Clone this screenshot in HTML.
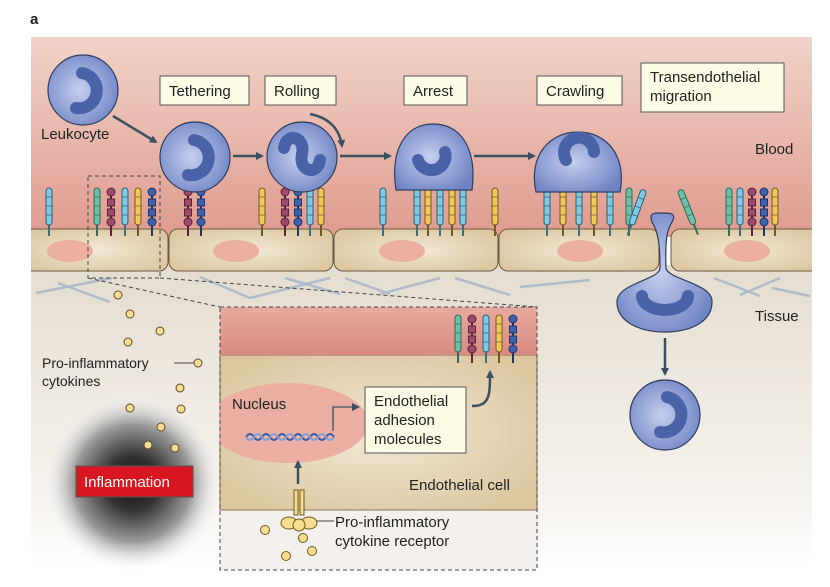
<!DOCTYPE html>
<html><head><meta charset="utf-8"><style>
body{margin:0;background:#fff}
svg{display:block}
text{font-family:"Liberation Sans",sans-serif;fill:#222}
</style></head><body>
<svg width="830" height="587" viewBox="0 0 830 587" xmlns="http://www.w3.org/2000/svg">
<defs>
<linearGradient id="blood" x1="0" y1="0" x2="0" y2="1">
<stop offset="0" stop-color="#f1d3c8"/><stop offset="1" stop-color="#df9b8f"/></linearGradient>
<linearGradient id="tissue" x1="0" y1="0" x2="0" y2="1">
<stop offset="0" stop-color="#e4ddd0"/><stop offset="0.8" stop-color="#f7f4ef"/><stop offset="1" stop-color="#fff"/></linearGradient>
<radialGradient id="endo" cx="0.5" cy="0.5" r="0.6">
<stop offset="0" stop-color="#f3e9d6"/><stop offset="1" stop-color="#dcc7a0"/></radialGradient>
<radialGradient id="cell" cx="0.45" cy="0.5" r="0.6">
<stop offset="0" stop-color="#c5cfee"/><stop offset="1" stop-color="#6f84c4"/></radialGradient>
<radialGradient id="infl" cx="0.5" cy="0.5" r="0.5">
<stop offset="0" stop-color="#111"/><stop offset="0.3" stop-color="#333"/><stop offset="0.65" stop-color="#999"/><stop offset="1" stop-color="#fff" stop-opacity="0"/></radialGradient>
<linearGradient id="insetred" x1="0" y1="0" x2="0" y2="1">
<stop offset="0" stop-color="#e7aaa0"/><stop offset="1" stop-color="#d98b80"/></linearGradient>
<clipPath id="insclip"><rect x="220" y="307" width="317" height="263"/></clipPath>
<marker id="ah" markerWidth="8" markerHeight="8" refX="6" refY="4" orient="auto" markerUnits="userSpaceOnUse">
<path d="M0,0 L8,4 L0,8 Z" fill="#3a5060"/></marker>
<g id="rc"><line x1="0" y1="36" x2="0" y2="48" stroke="#3e6e7e" stroke-width="2"/><rect x="-3" y="0" width="6" height="37" rx="3" fill="#7ecbe8" stroke="#2f5f70" stroke-width="1"/><path d="M-3,9h6M-3,18h6M-3,27h6" stroke="#2f5f70" stroke-width="0.8"/></g>
<g id="ry"><line x1="0" y1="36" x2="0" y2="48" stroke="#6e5a20" stroke-width="2"/><rect x="-3" y="0" width="6" height="37" rx="3" fill="#f2c85a" stroke="#6e5a20" stroke-width="1"/><path d="M-3,9h6M-3,18h6M-3,27h6" stroke="#6e5a20" stroke-width="0.8"/></g>
<g id="rg"><line x1="0" y1="36" x2="0" y2="48" stroke="#2f6a5a" stroke-width="2"/><rect x="-3" y="0" width="6" height="37" rx="3" fill="#6cc0a6" stroke="#2f6a5a" stroke-width="1"/><path d="M-3,9h6M-3,18h6M-3,27h6" stroke="#2f6a5a" stroke-width="0.8"/></g>
<g id="bp"><line x1="0" y1="4" x2="0" y2="48" stroke="#5a2238" stroke-width="2"/><circle cx="0" cy="4" r="4" fill="#9c4b6d" stroke="#5a2238"/><rect x="-3.5" y="11" width="7" height="7" fill="#9c4b6d" stroke="#5a2238"/><rect x="-3.5" y="21" width="7" height="7" fill="#9c4b6d" stroke="#5a2238"/><circle cx="0" cy="34" r="4" fill="#9c4b6d" stroke="#5a2238"/></g>
<g id="bb"><line x1="0" y1="4" x2="0" y2="48" stroke="#1f3568" stroke-width="2"/><circle cx="0" cy="4" r="4" fill="#3f60aa" stroke="#1f3568"/><rect x="-3.5" y="11" width="7" height="7" fill="#3f60aa" stroke="#1f3568"/><rect x="-3.5" y="21" width="7" height="7" fill="#3f60aa" stroke="#1f3568"/><circle cx="0" cy="34" r="4" fill="#3f60aa" stroke="#1f3568"/></g>
</defs>

<text x="30" y="24" font-size="15" font-weight="bold">a</text>
<rect x="31" y="37" width="781" height="200" fill="url(#blood)"/>
<rect x="31" y="265" width="781" height="300" fill="url(#tissue)"/>
<g stroke="#a8b8c8" stroke-width="2.5" fill="none" opacity="0.9">
<path d="M36,293 L112,278 M58,283 L110,302 M200,277 L250,298 M250,298 L330,278 M285,278 L340,294 M345,278 L390,294 M380,294 L440,278 M455,278 L510,295 M520,287 L590,280 M714,278 L760,296 M740,295 L780,278 M772,288 L810,296"/>
</g>
<g fill="url(#endo)" stroke="#6b5a40" stroke-width="1">
<rect x="22" y="229" width="146" height="42" rx="9"/>
<rect x="169" y="229" width="164" height="42" rx="9"/>
<rect x="334" y="229" width="164" height="42" rx="9"/>
<rect x="499" y="229" width="160" height="42" rx="9"/>
<rect x="671" y="229" width="150" height="42" rx="9"/>
</g>
<rect x="812" y="225" width="18" height="50" fill="#fff"/>
<rect x="0" y="225" width="31" height="50" fill="#fff"/>
<g fill="#eaaea2">
<ellipse cx="70" cy="251" rx="23" ry="11"/><ellipse cx="236" cy="251" rx="23" ry="11"/>
<ellipse cx="402" cy="251" rx="23" ry="11"/><ellipse cx="580" cy="251" rx="23" ry="11"/>
<ellipse cx="747" cy="251" rx="23" ry="11"/></g>

<use href="#rc" x="49" y="188"/><use href="#rg" x="97" y="188"/><use href="#bp" x="111" y="188"/><use href="#rc" x="125" y="188"/><use href="#ry" x="138" y="188"/><use href="#bb" x="152" y="188"/>
<use href="#bp" x="188" y="188"/><use href="#bb" x="201" y="188"/>
<use href="#ry" x="262" y="188"/><use href="#bp" x="285" y="188"/><use href="#bb" x="298" y="188"/><use href="#rc" x="310" y="188"/><use href="#ry" x="321" y="188"/>
<use href="#rc" x="383" y="188"/><use href="#rc" x="417" y="188"/><use href="#ry" x="428" y="188"/><use href="#rc" x="440" y="188"/><use href="#ry" x="452" y="188"/><use href="#rc" x="463" y="188"/><use href="#ry" x="495" y="188"/>
<use href="#rc" x="547" y="188"/><use href="#ry" x="563" y="188"/><use href="#rc" x="579" y="188"/><use href="#ry" x="594" y="188"/><use href="#rc" x="610" y="188"/><use href="#rg" x="629" y="188"/>
<use href="#rc" transform="translate(644,190) rotate(20)"/><use href="#rg" transform="translate(680,190) rotate(-22)"/>
<use href="#rg" x="729" y="188"/><use href="#rc" x="740" y="188"/><use href="#bp" x="752" y="188"/><use href="#bb" x="764" y="188"/><use href="#ry" x="775" y="188"/>

<g stroke="#2f3d5c" stroke-width="1.2" fill="url(#cell)">
<circle cx="83" cy="90" r="35"/>
<circle cx="195" cy="157" r="35"/>
<circle cx="302" cy="157" r="35"/>
<path d="M396,190 C390,150 405,124 433,124 C462,124 477,150 472,190 Z"/>
<path d="M536,192 C528,155 550,132 578,132 C606,132 627,155 620,192 Z"/>
<path d="M652,222 C648,212 656,213 662,213 C670,213 677,213 672,222 C667,230 665,240 666,268 C668,280 713,283 712,302 C712,322 690,332 665,332 C640,332 617,322 617,302 C617,283 660,280 660,268 C660,240 657,230 652,222 Z"/>
<circle cx="665" cy="415" r="35"/>
</g>
<g fill="none" stroke="#4a63a8" stroke-width="12" stroke-linecap="round">
<path d="M82,73 A17,17 0 1 1 76,108"/>
<path d="M194,140 A17,17 0 1 1 188,175"/>
<path d="M284,148 C286,132 306,136 302,154 C298,172 318,176 320,160"/>
<path d="M445,152 A14,14 0 1 1 418,160"/>
<path d="M594,152 A15,15 0 1 0 566,160"/>
<path d="M642,296 A23,14 0 0 0 688,296"/>
<path d="M667,397 A17,17 0 1 1 660,432"/>
</g>

<g stroke="#3a5060" stroke-width="2.5" fill="none" marker-end="url(#ah)">
<path d="M113,116 L156,142"/>
<path d="M233,156 L262,156"/>
<path d="M340,156 L390,156"/>
<path d="M310,114 C330,118 340,130 342,146"/>
<path d="M474,156 L534,156"/>
<path d="M665,338 L665,374"/>
</g>

<g fill="#fbfbe6" stroke="#555" stroke-width="1">
<rect x="160" y="76" width="89" height="29"/><rect x="265" y="76" width="71" height="29"/>
<rect x="404" y="76" width="63" height="29"/><rect x="537" y="76" width="85" height="29"/>
<rect x="641" y="63" width="143" height="49"/>
</g>
<g font-size="15">
<text x="169" y="96">Tethering</text><text x="274" y="96">Rolling</text>
<text x="413" y="96">Arrest</text><text x="546" y="96">Crawling</text>
<text x="650" y="82">Transendothelial</text><text x="650" y="101">migration</text>
<text x="41" y="139">Leukocyte</text>
<text x="755" y="154">Blood</text>
<text x="755" y="321">Tissue</text>
</g>

<g stroke="#444" stroke-width="1" stroke-dasharray="4,3" fill="none">
<rect x="88" y="176" width="72" height="102"/>
<path d="M88,278 L220,307 M160,278 L537,307"/>
</g>

<circle cx="133" cy="483" r="90" fill="url(#infl)"/>
<rect x="76" y="466" width="117" height="31" fill="#d81620" stroke="#555"/>
<text x="84" y="487" font-size="15" style="fill:#fff">Inflammation</text>
<g fill="#f8dc90" stroke="#5a4a30" stroke-width="1">
<circle cx="118" cy="295" r="4"/><circle cx="130" cy="314" r="4"/><circle cx="160" cy="331" r="4"/><circle cx="128" cy="342" r="4"/><circle cx="198" cy="363" r="4"/><circle cx="180" cy="388" r="4"/><circle cx="130" cy="408" r="4"/><circle cx="181" cy="409" r="4"/><circle cx="161" cy="427" r="4"/><circle cx="148" cy="445" r="4"/><circle cx="175" cy="448" r="4"/>
</g>
<line x1="174" y1="363" x2="194" y2="363" stroke="#444"/>
<text x="42" y="368" font-size="14">Pro-inflammatory</text>
<text x="42" y="386" font-size="14">cytokines</text>

<rect x="220" y="307" width="317" height="263" fill="#f4f1ec"/>
<rect x="220" y="355" width="317" height="155" fill="url(#endo)" stroke="#6b5a40" stroke-width="0.8"/>
<rect x="220" y="307" width="317" height="48" fill="url(#insetred)"/>
<ellipse cx="288" cy="423" rx="80" ry="40" fill="#eaaea2" clip-path="url(#insclip)"/>
<rect x="220" y="307" width="317" height="263" fill="none" stroke="#444" stroke-dasharray="4,3"/>
<use href="#rg" x="458" y="315"/><use href="#bp" x="472" y="315"/><use href="#rc" x="486" y="315"/><use href="#ry" x="499" y="315"/><use href="#bb" x="513" y="315"/>
<path d="M246,437 q4,-6 8,0 t8,0 t8,0 t8,0 t8,0 t8,0 t8,0 t8,0 t8,0 t8,0 t8,0" fill="none" stroke="#3a5aa8" stroke-width="2"/>
<path d="M246,437 q4,6 8,0 t8,0 t8,0 t8,0 t8,0 t8,0 t8,0 t8,0 t8,0 t8,0 t8,0" fill="none" stroke="#7fa0d8" stroke-width="2"/>
<g stroke="#3a5060" stroke-width="2" fill="none">
<path d="M333,431 L333,407 L358,407" marker-end="url(#ah)" stroke-width="1.3"/>
<path d="M472,406 C490,406 490,395 490,372" marker-end="url(#ah)" stroke-width="2.5"/>
<path d="M298,484 L298,462" marker-end="url(#ah)" stroke-width="2.5"/>
</g>
<rect x="365" y="387" width="101" height="66" fill="#fbfbe6" stroke="#555"/>
<g font-size="15">
<text x="374" y="406">Endothelial</text><text x="374" y="425">adhesion</text><text x="374" y="444">molecules</text>
<text x="232" y="409">Nucleus</text>
<text x="409" y="490">Endothelial cell</text>
<text x="335" y="527">Pro-inflammatory</text><text x="335" y="546">cytokine receptor</text>
</g>
<g fill="#f8dc90" stroke="#6e5a20" stroke-width="1">
<rect x="294" y="490" width="4" height="25"/><rect x="300" y="490" width="4" height="25"/>
<ellipse cx="289" cy="523" rx="8" ry="6"/><ellipse cx="309" cy="523" rx="8" ry="6"/>
<circle cx="299" cy="525" r="6"/>
<circle cx="265" cy="530" r="4.5"/><circle cx="303" cy="538" r="4.5"/><circle cx="312" cy="551" r="4.5"/><circle cx="286" cy="556" r="4.5"/>
</g>
<line x1="316" y1="521" x2="334" y2="521" stroke="#444"/>
</svg>
</body></html>
